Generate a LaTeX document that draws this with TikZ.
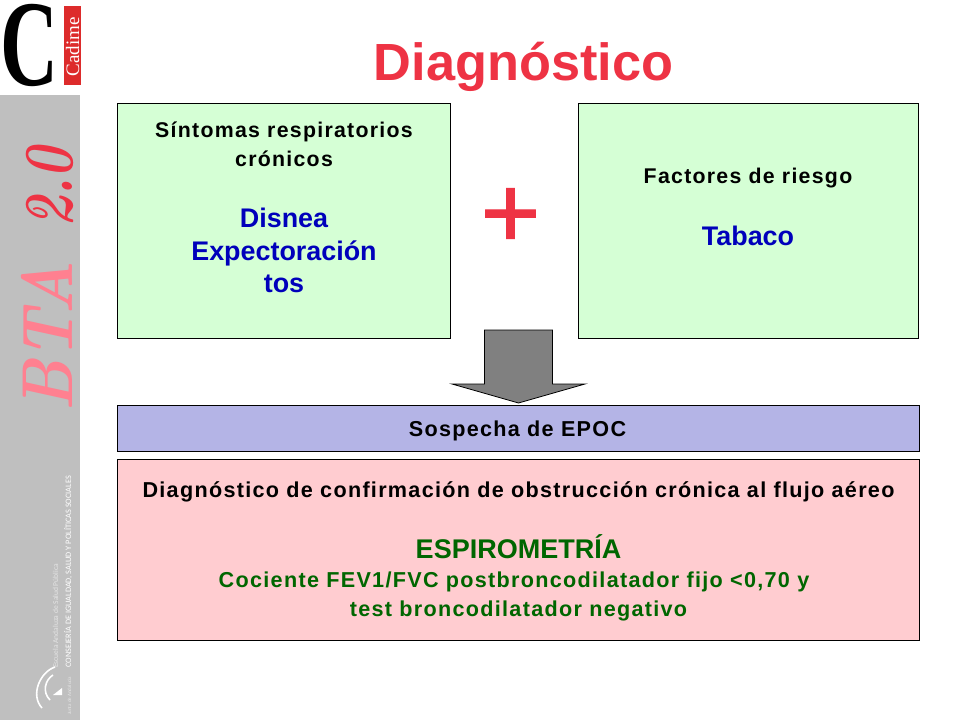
\documentclass[tikz,border=0pt]{standalone}
\usepackage{fontspec}
\setmainfont{Liberation Sans}
\newfontfamily\spaced[LetterSpace=6]{Liberation Sans}
\newfontfamily\plusfont[FakeBold=1.2]{Liberation Sans}
\newfontfamily\logofont{Liberation Serif}
\newfontfamily\didone{Latin Modern Roman}
\newfontfamily\juntafont{Carlito}
\definecolor{titlered}{HTML}{EE3344}
\definecolor{sidegray}{HTML}{BFBFBF}
\definecolor{boxgreen}{HTML}{D5FFD5}
\definecolor{boxblue}{HTML}{B4B4E6}
\definecolor{boxpink}{HTML}{FFCCD0}
\definecolor{textblue}{HTML}{0000BB}
\definecolor{textgreen}{HTML}{006600}
\definecolor{btapink}{HTML}{FF8090}
\definecolor{cadimered}{HTML}{DD2B2B}
\tikzset{
box/.style={draw=black, line width=0.8pt, inner sep=0pt, align=center},
small/.style={font=\fontsize{21.3}{29}\spaced\bfseries},
wide/.style={font=\fontsize{21.6}{29}\spaced\bfseries},
sidetext/.style={rotate=90, anchor=base west, inner sep=0pt},
cadime/.pic={
  \fill[cadimered] (64,6) rectangle (81,85);
  \node[rotate=90, text=white] (cadimelabel) at (72.5,47) {\fontsize{19}{19}\logofont Cadime};
  },
emblem/.pic={
  \draw[white, line width=1.6pt] (55,667) .. controls (40,672) and (30,695) .. (42,708);
  \draw[white, line width=1.6pt] (53,675) .. controls (45,680) and (42,692) .. (50,700);
  \fill[white] (62,688) -- (62,695) -- (53,695) -- cycle;
  }
}
\newcommand{\bigblue}{\color{textblue}\fontsize{26.9}{32.5}\selectfont\normalfont\bfseries}
\begin{document}
\begin{tikzpicture}[x=1pt, y=-1pt]
  \useasboundingbox (0,0) rectangle (960,720);
  % side bar
  \fill[sidegray] (0,95) rectangle (80,720);
  \node[inner sep=0pt, xscale=0.68, yscale=1.04] (bigc) at (29.5,45.5) {\fontsize{118}{118}\logofont\bfseries C};
  \pic at (0,0) {cadime};
  \node[sidetext, xscale=0.88, text=btapink] (bta) at (72,412) {\fontsize{72}{72}\didone\bfseries\itshape BTA};
  \node[sidetext, xscale=0.75, text=titlered] (version) at (72,228) {\fontsize{70}{70}\didone\bfseries\itshape 2.0};
  \node[sidetext, text=white] (consejeria) at (71,668) {\fontsize{8.3}{8.3}\juntafont CONSEJERÍA DE IGUALDAD, SALUD Y POLÍTICAS SOCIALES};
  \node[sidetext, text=white, opacity=0.6] (escuela) at (58,668) {\fontsize{7.5}{7.5}\juntafont Escuela Andaluza de Salud Pública};
  \node[sidetext, text=white, opacity=0.6] (junta) at (71,715) {\fontsize{5}{5}\juntafont Junta de Andalucía};
  \pic at (0,0) {emblem};
  % title
  \node[text=titlered] (title) at (523.5,67) {\fontsize{52.3}{52.3}\selectfont\bfseries Diagnóstico};
  % boxes
  \node[box, fill=boxgreen, minimum width=333pt, minimum height=235pt] (sintomas) at (284,220.5) {};
  \node[align=center, small] (sintomastext) at (284,207.5)
    {Síntomas respiratorios\\crónicos\\[32pt]\bigblue Disnea\\[3.5pt]\bigblue Expectoración\\[3.5pt]\bigblue tos};
  \node[box, fill=boxgreen, minimum width=340pt, minimum height=235pt] (factores) at (748,220.5) {};
  \node[align=center, small] (factorestext) at (748,206.5)
    {Factores de riesgo\\[33pt]\bigblue Tabaco};
  \node[text=titlered] (plus) at (510.5,218) {\fontsize{102}{102}\plusfont +};
  \draw[fill=gray, line width=0.8pt] (484.5,330) -- (552.5,330) -- (552.5,384) -- (585,384) -- (518.5,403) -- (452,384) -- (484.5,384) -- cycle;
  \node[box, fill=boxblue, minimum width=802pt, minimum height=46pt] (sospecha) at (518,428) {};
  \node[wide] (sospechatext) at (517.5,431) {Sospecha de EPOC};
  \node[box, fill=boxpink, minimum width=802pt, minimum height=181pt] (confirmacion) at (518,549.5) {};
  \node[align=center, wide] (confirmaciontext) at (518.5,551.5)
    {Diagnóstico de confirmación de obstrucción crónica al flujo aéreo\\[32pt]
    \color{textgreen}\fontsize{27}{32}\selectfont\normalfont\bfseries ESPIROMETRÍA\\
    \color{textgreen}Cociente FEV1/FVC postbroncodilatador fijo <0,70 y\hspace*{9pt}\\
    \color{textgreen}test broncodilatador negativo};
\end{tikzpicture}
\end{document}
